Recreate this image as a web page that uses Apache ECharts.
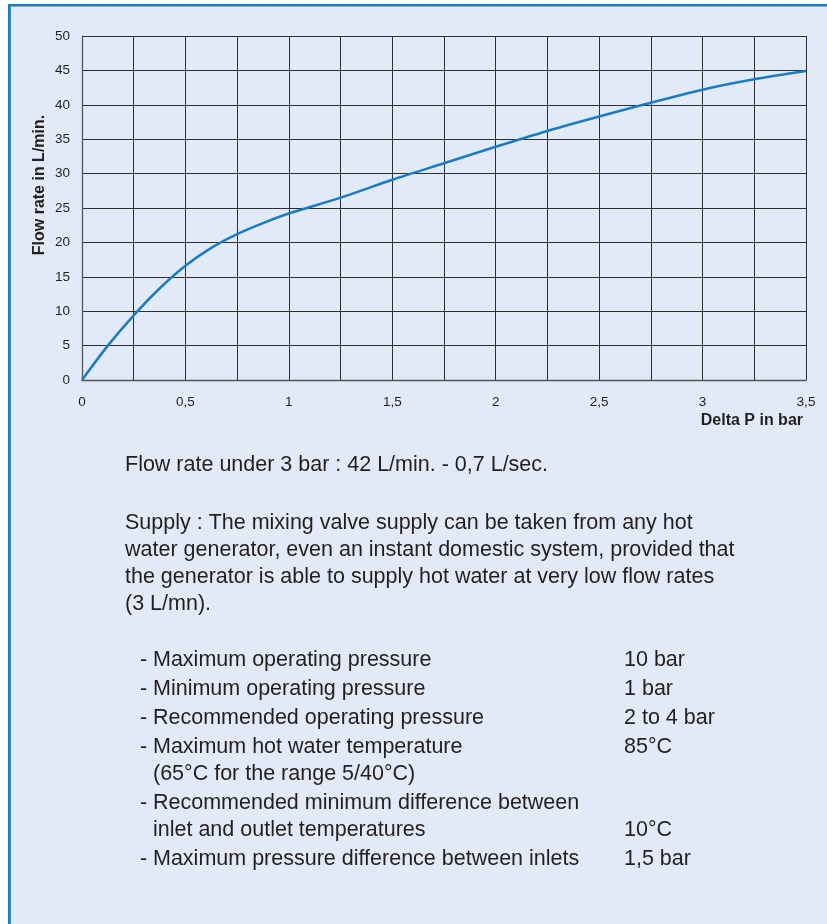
<!DOCTYPE html>
<html>
<head>
<meta charset="utf-8">
<script src="https://cdn.jsdelivr.net/npm/echarts@6/dist/echarts.min.js"></script>
<style>
html,body{margin:0;padding:0;background:#fff;}
#c{width:827px;height:924px;}
</style>
</head>
<body>
<div id="c"></div>
<script>
const deltaP = [0, 0.125, 0.25, 0.375, 0.5, 0.625, 0.75, 0.875, 1, 1.25, 1.5, 1.75, 2, 2.25, 2.5, 2.75, 3, 3.25, 3.5];
const flowRate = [0, 5, 9.4, 13.3, 16.6, 19.2, 21.2, 22.8, 24.2, 26.5, 29.1, 31.5, 33.9, 36.2, 38.3, 40.3, 42.2, 43.7, 44.9];
const xAxisTitle = 'Delta P in bar';
const yAxisTitle = 'Flow rate in L/min.';
const summaryLine = 'Flow rate under 3 bar : 42 L/min. - 0,7 L/sec.';
const supplyLines = [
  'Supply : The mixing valve supply can be taken from any hot',
  'water generator, even an instant domestic system, provided that',
  'the generator is able to supply hot water at very low flow rates',
  '(3 L/mn).'
];
// each item: list of lines; values given per line ('' = none)
const specLabels = [
  ['Maximum operating pressure'],
  ['Minimum operating pressure'],
  ['Recommended operating pressure'],
  ['Maximum hot water temperature', '(65°C for the range 5/40°C)'],
  ['Recommended minimum difference between', 'inlet and outlet temperatures'],
  ['Maximum pressure difference between inlets']
];
const specValues = [
  ['10 bar'],
  ['1 bar'],
  ['2 to 4 bar'],
  ['85°C', ''],
  ['', '10°C'],
  ['1,5 bar']
];

const FONT = 'Liberation Sans';
const TXT = '#231f20';

function txt(text, x, y, size, extra) {
  return Object.assign({type:'text', style:Object.assign({
    text:text, x:x, y:y, verticalAlign:'middle', fontSize:size, fontFamily:FONT, fill:TXT
  }, extra || {})});
}

const graphics = [];
// panel background and blue frame
graphics.push({type:'rect', z:-10, shape:{x:8, y:4, width:830, height:930}, style:{fill:'#e2eaf7'}});
graphics.push({type:'rect', z:-9, shape:{x:8, y:4, width:830, height:2.5}, style:{fill:'#1a7dc4'}});
graphics.push({type:'rect', z:-9, shape:{x:8, y:4, width:2.8, height:930}, style:{fill:'#1a7dc4'}});

// axis titles
graphics.push({type:'text', x:40, y:185, rotation:Math.PI/2,
  style:{text:yAxisTitle, x:0, y:0, align:'center', verticalAlign:'middle', fontSize:16, fontWeight:'bold', fontFamily:FONT, fill:TXT}});
graphics.push(txt(xAxisTitle, 803, 421, 16, {align:'right', fontWeight:'bold'}));

// notes
const BODY = 21.5;
graphics.push(txt(summaryLine, 125, 465, BODY));
supplyLines.forEach((t, i) => graphics.push(txt(t, 125, 523 + i * 27, BODY)));
let yy = 660;
specLabels.forEach((lines, i) => {
  lines.forEach((t, j) => {
    if (j === 0) graphics.push(txt('-', 140, yy, BODY));
    graphics.push(txt(t, 153, yy, BODY));
    const v = specValues[i][j];
    if (v) graphics.push(txt(v, 624, yy, BODY));
    yy += (j < lines.length - 1) ? 27 : 29;
  });
});

const chart = echarts.init(document.getElementById('c'), null, {renderer:'canvas'});
const gridLine = {show:true, lineStyle:{color:'#2e2e2e', width:1, type:'solid'}};
chart.setOption({
  animation:false,
  backgroundColor:'transparent',
  grid:{left:82, right:21, top:36, bottom:544, containLabel:false},
  xAxis:{
    type:'value', min:0, max:3.5, interval:0.25,
    axisLine:{show:true, lineStyle:{color:'#555', width:1.3}},
    axisTick:{show:false},
    splitLine:gridLine,
    axisLabel:{
      margin:15, color:TXT, fontSize:13.5, fontFamily:FONT,
      showMinLabel:true, showMaxLabel:true,
      formatter:function(v){
        const d = v * 2;
        if (Math.abs(d - Math.round(d)) > 1e-6) return '';
        return String(Math.round(v * 100) / 100).replace('.', ',');
      }
    }
  },
  yAxis:{
    type:'value', min:0, max:50, interval:5,
    axisLine:{show:true, lineStyle:{color:'#555', width:1.3}},
    axisTick:{show:false},
    splitLine:gridLine,
    axisLabel:{margin:12, color:TXT, fontSize:13.5, fontFamily:FONT}
  },
  series:[{
    type:'line',
    data: deltaP.map((x, i) => [x, flowRate[i]]),
    smooth:0.3,
    showSymbol:false,
    lineStyle:{color:'#1a7dc4', width:2.5},
    z:5
  }],
  graphic: graphics
});
</script>
</body>
</html>
